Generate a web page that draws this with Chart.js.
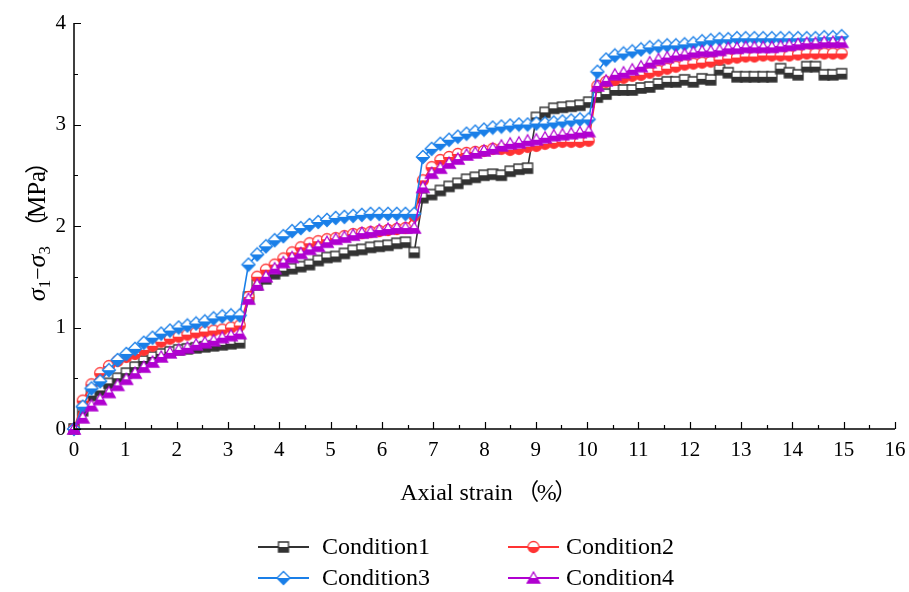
<!DOCTYPE html>
<html>
<head>
<meta charset="utf-8">
<script src="https://cdn.jsdelivr.net/npm/chart.js@4/dist/chart.umd.min.js"></script>
<style>
  html, body { margin: 0; padding: 0; background: #fff; }
  #wrap { width: 909px; height: 592px; }
</style>
</head>
<body>
<div id="wrap"><canvas id="c" width="909" height="592"></canvas></div>
<script>
// ---------- data ----------
const strain = [0, 0.17, 0.34, 0.51, 0.68, 0.85, 1.02, 1.19, 1.36, 1.53, 1.70, 1.87, 2.04, 2.21, 2.38, 2.55, 2.72, 2.89, 3.06, 3.23,
  3.40, 3.57, 3.74, 3.91, 4.08, 4.25, 4.42, 4.59, 4.76, 4.93, 5.10, 5.27, 5.44, 5.61, 5.78, 5.95, 6.12, 6.29, 6.46, 6.63,
  6.80, 6.97, 7.14, 7.31, 7.48, 7.65, 7.82, 7.99, 8.16, 8.33, 8.50, 8.67, 8.84, 9.01, 9.18, 9.35, 9.52, 9.69, 9.86, 10.03,
  10.20, 10.37, 10.54, 10.71, 10.88, 11.05, 11.22, 11.39, 11.56, 11.73, 11.90, 12.07, 12.24, 12.41, 12.58, 12.75, 12.92, 13.09,
  13.26, 13.43, 13.60, 13.77, 13.94, 14.11, 14.28, 14.45, 14.62, 14.79, 14.96];

const condition1 = [0, 0.18, 0.33, 0.38, 0.45, 0.5, 0.55, 0.61, 0.67, 0.71, 0.74, 0.76, 0.78, 0.79, 0.8, 0.81, 0.82, 0.83, 0.84, 0.85,
  1.3, 1.42, 1.48, 1.53, 1.56, 1.58, 1.6, 1.62, 1.66, 1.69, 1.7, 1.73, 1.76, 1.77, 1.79, 1.8, 1.81, 1.83, 1.84, 1.74,
  2.28, 2.31, 2.35, 2.39, 2.42, 2.46, 2.48, 2.5, 2.51, 2.5, 2.54, 2.56, 2.57, 3.07, 3.12, 3.16, 3.17, 3.18, 3.19, 3.22,
  3.27, 3.3, 3.34, 3.34, 3.34, 3.36, 3.37, 3.4, 3.42, 3.42, 3.44, 3.42, 3.45, 3.44, 3.54, 3.51, 3.47, 3.47,
  3.47, 3.47, 3.47, 3.55, 3.51, 3.49, 3.57, 3.57, 3.49, 3.49, 3.5];

const condition2 = [0, 0.28, 0.44, 0.55, 0.62, 0.67, 0.71, 0.74, 0.78, 0.82, 0.86, 0.89, 0.91, 0.93, 0.95, 0.96, 0.97, 0.98, 1.0, 1.02,
  1.3, 1.5, 1.57, 1.62, 1.68, 1.74, 1.79, 1.83, 1.85, 1.87, 1.88, 1.9, 1.92, 1.93, 1.94, 1.95, 1.96, 1.97, 1.98, 2.1,
  2.45, 2.58, 2.65, 2.68, 2.71, 2.72, 2.73, 2.74, 2.76, 2.76, 2.75, 2.76, 2.78, 2.79, 2.81, 2.82, 2.83, 2.83, 2.83, 2.84,
  3.38, 3.42, 3.44, 3.46, 3.48, 3.49, 3.51, 3.53, 3.55, 3.57, 3.59, 3.6, 3.61, 3.62, 3.64, 3.65, 3.66, 3.67,
  3.67, 3.68, 3.68, 3.68, 3.68, 3.69, 3.7, 3.7, 3.7, 3.7, 3.7];

const condition3 = [0, 0.22, 0.4, 0.47, 0.58, 0.68, 0.74, 0.79, 0.85, 0.9, 0.94, 0.97, 1.0, 1.02, 1.04, 1.06, 1.09, 1.11, 1.12, 1.12,
  1.62, 1.72, 1.8, 1.86, 1.9, 1.95, 1.98, 2.01, 2.04, 2.06, 2.08, 2.09, 2.1, 2.11, 2.12, 2.12, 2.12, 2.12, 2.12, 2.12,
  2.68, 2.76, 2.81, 2.85, 2.88, 2.91, 2.93, 2.95, 2.97, 2.98, 2.99, 3.0, 3.0, 3.01, 3.01, 3.02, 3.03, 3.04, 3.05, 3.05,
  3.52, 3.64, 3.68, 3.7, 3.72, 3.74, 3.76, 3.77, 3.78, 3.78, 3.79, 3.8, 3.82, 3.83, 3.84, 3.84, 3.85, 3.85,
  3.85, 3.85, 3.85, 3.85, 3.85, 3.85, 3.85, 3.85, 3.86, 3.86, 3.87];

const condition4 = [0, 0.11, 0.23, 0.29, 0.36, 0.43, 0.49, 0.55, 0.61, 0.66, 0.71, 0.75, 0.78, 0.8, 0.83, 0.85, 0.87, 0.9, 0.92, 0.94,
  1.28, 1.42, 1.5, 1.58, 1.64, 1.69, 1.73, 1.77, 1.8, 1.84, 1.87, 1.89, 1.91, 1.93, 1.94, 1.96, 1.97, 1.98, 1.98, 1.98,
  2.38, 2.52, 2.57, 2.62, 2.66, 2.7, 2.72, 2.74, 2.76, 2.79, 2.81, 2.82, 2.84, 2.85, 2.87, 2.89, 2.9, 2.91, 2.92, 2.93,
  3.38, 3.43, 3.49, 3.51, 3.54, 3.57, 3.61, 3.64, 3.66, 3.68, 3.69, 3.71, 3.72, 3.72, 3.73, 3.75, 3.75, 3.76,
  3.76, 3.76, 3.76, 3.77, 3.78, 3.79, 3.8, 3.8, 3.81, 3.81, 3.81];

const seriesNames = ['Condition1', 'Condition2', 'Condition3', 'Condition4'];
const xTickValues = [0, 1, 2, 3, 4, 5, 6, 7, 8, 9, 10, 11, 12, 13, 14, 15, 16];
const yTickValues = [0, 1, 2, 3, 4];

// ---------- styling ----------
const FONT = "'Liberation Serif', 'Times New Roman', serif";
const CJK = "'Noto Sans CJK SC', 'Noto Sans CJK JP', sans-serif";
const colors = ['#333333', '#ff3333', '#1a7fe8', '#b000d0'];
const shapes = ['square', 'circle', 'diamond', 'triangle'];

function makeMarker(shape, color) {
  const c = document.createElement('canvas');
  c.width = 16; c.height = 16;
  const g = c.getContext('2d');
  const path = () => {
    g.beginPath();
    if (shape === 'square') { g.rect(3, 3, 10, 10); }
    else if (shape === 'circle') { g.arc(8, 8, 5.5, 0, Math.PI * 2); }
    else if (shape === 'diamond') { g.moveTo(8, 1.5); g.lineTo(14.5, 8); g.lineTo(8, 14.5); g.lineTo(1.5, 8); g.closePath(); }
    else { g.moveTo(8, 2); g.lineTo(14.3, 13); g.lineTo(1.7, 13); g.closePath(); }
  };
  path(); g.fillStyle = '#fff'; g.fill();
  g.save(); g.beginPath(); g.rect(0, 8, 16, 8); g.clip(); path(); g.fillStyle = color; g.fill(); g.restore();
  path(); g.strokeStyle = color; g.lineWidth = 1.3; g.stroke();
  return c;
}
const markers = shapes.map((s, i) => makeMarker(s, colors[i]));

const seriesValues = [condition1, condition2, condition3, condition4];
const datasets = seriesValues.map((vals, i) => ({
  label: seriesNames[i],
  data: strain.map((x, k) => ({ x: x, y: vals[k] })),
  showLine: true,
  borderColor: colors[i],
  backgroundColor: colors[i],
  borderWidth: 1.6,
  tension: 0,
  pointStyle: markers[i],
  pointRadius: 6,
  pointHoverRadius: 6,
  clip: false,
  order: 4 - i
}));

// draw a run of text segments centred at (0, baseline) in current transform
function drawRun(ctx, parts, baseline) {
  let total = 0;
  parts.forEach(p => { ctx.font = p.f; p.w = (p.adv !== undefined) ? p.adv : ctx.measureText(p.t).width; total += p.w; });
  let cx = -total / 2;
  parts.forEach(p => {
    ctx.font = p.f;
    const gw = ctx.measureText(p.t).width;
    ctx.fillText(p.t, cx + (p.w - gw) / 2 + (p.shift || 0), baseline + (p.dy || 0));
    cx += p.w;
  });
}

const decor = {
  id: 'decor',
  afterDraw(chart) {
    const ctx = chart.ctx;
    const xs = chart.scales.x, ys = chart.scales.y;
    const L = chart.chartArea.left, B = chart.chartArea.bottom, T = chart.chartArea.top, R = chart.chartArea.right;
    ctx.save();
    ctx.strokeStyle = '#000';
    ctx.lineWidth = 1.5;
    // axes
    ctx.beginPath();
    ctx.moveTo(L, ys.getPixelForValue(4)); ctx.lineTo(L, B); ctx.lineTo(xs.getPixelForValue(16), B);
    ctx.stroke();
    // ticks (inward)
    ctx.lineWidth = 1.2;
    ctx.beginPath();
    for (let v = 0; v <= 16; v += 0.5) {
      const px = Math.round(xs.getPixelForValue(v)) + 0.5;
      const len = (v % 1 === 0) ? 7 : 4;
      ctx.moveTo(px, B); ctx.lineTo(px, B - len);
    }
    for (let v = 0; v <= 4; v += 0.5) {
      const py = Math.round(ys.getPixelForValue(v)) + 0.5;
      const len = (v % 1 === 0) ? 7 : 4;
      ctx.moveTo(L, py); ctx.lineTo(L + len, py);
    }
    ctx.stroke();

    ctx.fillStyle = '#000';
    ctx.textAlign = 'left';
    ctx.textBaseline = 'alphabetic';

    // x title
    ctx.save();
    ctx.translate((L + R) / 2 + 6, 0);
    drawRun(ctx, [
      { t: 'Axial strain', f: '24px ' + FONT },
      { t: '（', f: '23px ' + CJK, adv: 24, shift: 3 },
      { t: '%', f: '24px ' + FONT },
      { t: '）', f: '23px ' + CJK, adv: 24, shift: -3 }
    ], 500);
    ctx.restore();

    // y title with subscripts
    ctx.save();
    ctx.translate(37, (T + B) / 2 - 4);
    ctx.rotate(-Math.PI / 2);
    drawRun(ctx, [
      { t: 'σ', f: 'italic 26px ' + FONT },
      { t: '1', f: '17px ' + FONT, dy: 5 },
      { t: '−', f: '22px ' + FONT },
      { t: 'σ', f: 'italic 26px ' + FONT },
      { t: '3', f: '17px ' + FONT, dy: 5 },
      { t: '（', f: '24px ' + CJK, adv: 28, shift: 5 },
      { t: 'MPa', f: '25px ' + FONT },
      { t: '）', f: '24px ' + CJK, adv: 28, shift: -5 }
    ], 8);
    ctx.restore();

    // legend
    const entries = [
      { i: 0, lx: 258, y: 547, tx: 322 },
      { i: 1, lx: 508, y: 547, tx: 566 },
      { i: 2, lx: 258, y: 578, tx: 322 },
      { i: 3, lx: 508, y: 578, tx: 566 }
    ];
    ctx.font = '24px ' + FONT;
    ctx.textAlign = 'left';
    ctx.textBaseline = 'middle';
    entries.forEach(e => {
      ctx.strokeStyle = colors[e.i];
      ctx.lineWidth = 1.8;
      ctx.beginPath(); ctx.moveTo(e.lx, e.y); ctx.lineTo(e.lx + 51, e.y); ctx.stroke();
      ctx.drawImage(markers[e.i], e.lx + 25.5 - 8, e.y - 8);
      ctx.fillStyle = '#000';
      ctx.fillText(seriesNames[e.i], e.tx, e.y + 1);
    });
    ctx.restore();
  }
};

new Chart(document.getElementById('c'), {
  type: 'scatter',
  data: { datasets },
  options: {
    responsive: false,
    animation: false,
    events: [],
    layout: { padding: { left: 0, right: 14, top: 23, bottom: 0 } },
    plugins: { legend: { display: false }, tooltip: { enabled: false } },
    scales: {
      x: {
        type: 'linear', min: 0, max: 16,
        afterFit(s) { s.height = 163; s.paddingRight = 0; s.paddingLeft = 0; },
        afterBuildTicks(s) { s.ticks = xTickValues.map(v => ({ value: v })); },
        grid: { display: false, drawTicks: false },
        border: { display: false },
        ticks: { color: '#000', font: { family: FONT, size: 21 }, padding: 9, maxRotation: 0, autoSkip: false }
      },
      y: {
        type: 'linear', min: 0, max: 4,
        afterFit(s) { s.width = 74; s.paddingTop = 0; s.paddingBottom = 0; },
        afterBuildTicks(s) { s.ticks = yTickValues.map(v => ({ value: v })); },
        grid: { display: false, drawTicks: false },
        border: { display: false },
        ticks: { color: '#000', font: { family: FONT, size: 21 }, padding: 8 }
      }
    }
  },
  plugins: [decor]
});
</script>
</body>
</html>
